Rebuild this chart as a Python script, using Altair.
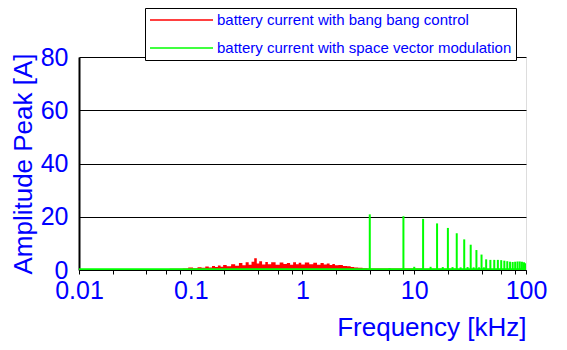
import altair as alt
import pandas as pd

FONT = "Liberation Sans, Arial"
BLUE = "#0000ff"

series_names = ["battery current with bang bang control",
                "battery current with space vector modulation"]
series_colors = ["#ff0000", "#00ff00"]

# bang bang control spectrum (kHz, A)
red_freq = [0.01, 0.02, 0.03, 0.04, 0.05, 0.06, 0.07, 0.08, 0.09, 0.10,
            0.11, 0.12, 0.13, 0.14, 0.15, 0.16, 0.17, 0.18, 0.19, 0.20,
            0.22, 0.24, 0.26, 0.28, 0.30, 0.32, 0.34, 0.36, 0.38, 0.40,
            0.42, 0.45, 0.48, 0.50, 0.55, 0.60, 0.65, 0.70, 0.75, 0.80,
            0.85, 0.90, 0.95, 1.0, 1.1, 1.2, 1.3, 1.4, 1.5, 1.6,
            1.7, 1.8, 1.9, 2.0, 2.2, 2.4, 2.6, 2.8, 3.0, 3.3,
            3.6, 4.0, 5.0, 6.0, 8.0, 10, 15, 20, 30, 50, 100]
red_amp = [0.3, 0.3, 0.35, 0.3, 0.4, 0.35, 0.5, 0.45, 0.6, 0.9,
           0.7, 1.0, 0.8, 1.3, 0.9, 1.5, 1.1, 1.7, 1.2, 1.9,
           1.4, 2.2, 1.6, 2.6, 1.8, 2.9, 2.0, 3.1, 4.4, 2.4,
           3.3, 2.1, 3.0, 2.2, 2.9, 2.0, 2.8, 2.3, 2.6, 2.0,
           2.9, 2.2, 2.7, 2.1, 2.8, 2.2, 2.7, 2.0, 2.6, 2.1,
           2.4, 1.9, 2.3, 1.8, 1.9, 1.5, 1.4, 1.1, 0.9, 0.8,
           0.7, 0.6, 0.6, 0.6, 0.6, 0.6, 0.5, 0.5, 0.4, 0.3, 0.3]

# space vector modulation spectrum lines (kHz, A)
svm_freq = [4, 6, 8, 10, 12, 14, 16, 18, 20, 22, 24, 26, 28, 30, 32, 34,
            36, 38, 40, 42, 44, 48, 52, 56, 60, 64, 68, 72, 76, 80, 84,
            88, 92, 96, 100]
svm_amp = [20.9, 0.7, 20.2, 1.2, 19.2, 1.2, 17.5, 1.1, 15.8, 1.1, 13.8,
           1.0, 11.5, 1.1, 9.5, 1.0, 7.5, 1.0, 5.8, 1.0, 4.0, 3.8, 3.8,
           3.8, 3.7, 3.5, 3.3, 3.1, 3.0, 3.1, 3.2, 3.2, 3.1, 2.9, 2.5]

# space vector modulation noise floor
svm_floor_freq = [0.01, 100]
svm_floor_amp = [0.2, 0.2]

x_ticks = [0.01, 0.02, 0.04, 0.06, 0.08, 0.1, 0.2, 0.4, 0.6, 0.8,
           1, 2, 4, 6, 8, 10, 20, 40, 60, 80, 100]
y_ticks = [0, 20, 40, 60, 80]

red_df = pd.DataFrame({"f": red_freq, "a": red_amp})
svm_df = pd.DataFrame({"f": svm_freq, "a": svm_amp, "s": series_names[1]})
floor_df = pd.DataFrame({"f": svm_floor_freq, "a": svm_floor_amp, "s": series_names[1]})

x_enc = alt.X("f:Q", scale=alt.Scale(type="log", domain=[0.01, 100], nice=False),
              axis=alt.Axis(values=x_ticks,
                            labelExpr="abs(log(datum.value)/LN10 - round(log(datum.value)/LN10)) < 0.001 ? format(datum.value, '~g') : ''",
                            labelOverlap=False, labelFlush=False,
                            tickSize=4, tickColor="black", domainColor="black",
                            grid=False, labelFontSize=25, labelColor=BLUE,
                            labelFont=FONT, labelPadding=4,
                            title="Frequency [kHz]", titleFontSize=26,
                            titleColor=BLUE, titleFont=FONT,
                            titleFontWeight="normal", titleAnchor="end",
                            titlePadding=11))
y_enc = alt.Y("a:Q", scale=alt.Scale(domain=[0, 80], nice=False),
              axis=alt.Axis(values=y_ticks, grid=True, gridColor="black",
                            gridOpacity=1, gridWidth=1, ticks=False,
                            domainColor="black", domainWidth=2,
                            labelFontSize=25, labelColor=BLUE, labelFont=FONT,
                            labelPadding=11, title="Amplitude Peak [A]",
                            titleFontSize=26, titleColor=BLUE, titleFont=FONT,
                            titleFontWeight="normal", titlePadding=4))
stroke_enc = alt.Stroke("s:N", scale=alt.Scale(domain=series_names, range=series_colors),
                        legend=alt.Legend(orient="none", legendX=66, legendY=-49,
                                          title=None, labelFontSize=15,
                                          labelColor=BLUE, labelFont=FONT,
                                          strokeColor="black", fillColor="white",
                                          padding=4, rowPadding=12,
                                          symbolType="M-1,0H8", symbolSize=196,
                                          symbolStrokeWidth=1.5, labelOffset=52,
                                          labelLimit=600))

red = alt.Chart(red_df).mark_area(interpolate="step", color="#ff0000",
                                  opacity=1, fillOpacity=1, clip=True).encode(
    x=x_enc, y=y_enc, y2=alt.datum(0))
floor = alt.Chart(floor_df).mark_line(strokeWidth=2.5, opacity=1, clip=True).encode(
    x="f:Q", y="a:Q", stroke=stroke_enc)
spikes = alt.Chart(svm_df).mark_rule(strokeWidth=2, opacity=1, clip=True).encode(
    x="f:Q", y="a:Q", y2=alt.datum(0), stroke=stroke_enc)

chart = alt.layer(red, floor, spikes).properties(
    width=447, height=213,
    autosize=alt.AutoSizeParams(type="none"),
    padding={"left": 71, "top": 49, "right": 33, "bottom": 72},
).configure_view(stroke="black", strokeWidth=1).configure(background="white")

chart.save("out.html", embed_options={"renderer": "svg", "actions": False})
